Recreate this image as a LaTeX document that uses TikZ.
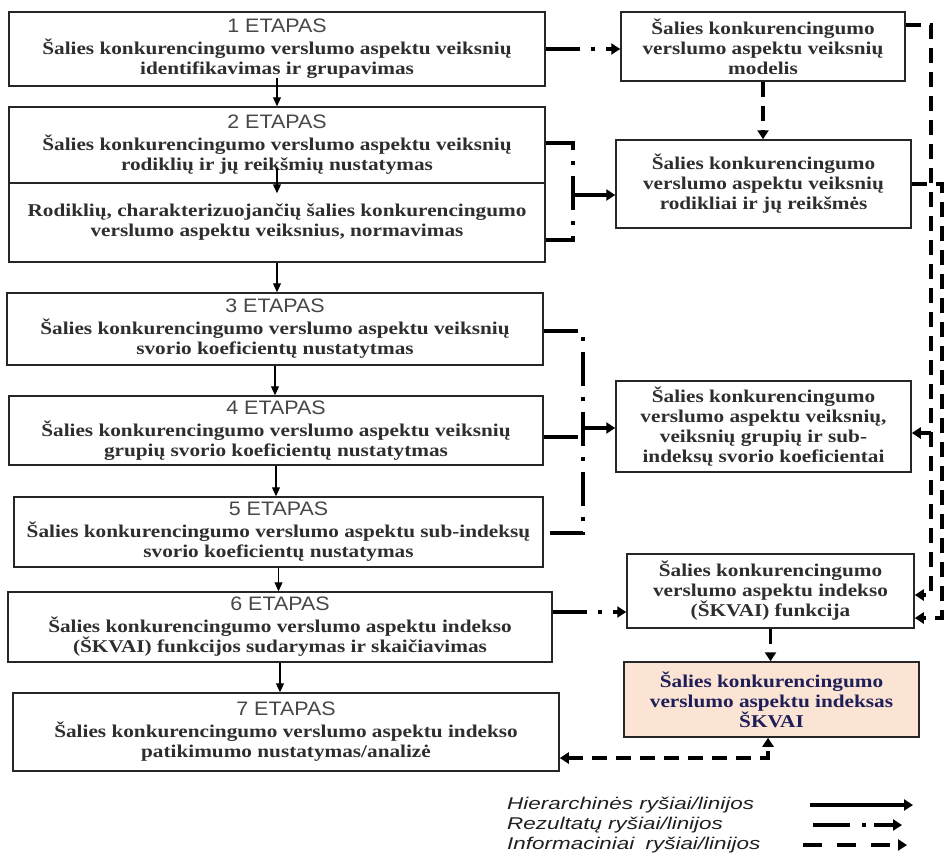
\documentclass[tikz,border=0pt]{standalone}
\usepackage{fontspec}
\setmainfont{Liberation Serif}
\newfontfamily\boxfont{Liberation Serif}[FakeStretch=1.18]
\newfontfamily\titfont{Liberation Sans}[FakeStretch=1.1]
\newfontfamily\legfont{Liberation Sans}[FakeStretch=1.32]
\usetikzlibrary{arrows.meta}
\definecolor{skvaifill}{RGB}{251,228,212}
\definecolor{skvaitxt}{RGB}{30,30,88}
\newcommand{\etap}[1]{{\titfont\mdseries\fontsize{19.5pt}{20pt}\selectfont\color{black!72}#1 ETAPAS}}

\begin{document}
\begin{tikzpicture}[x=1pt, y=-1pt, >={Triangle[length=9pt,width=11pt]},
  etapas/.style={draw=black!85, line width=1.5pt, fill=white, align=center, inner sep=0pt,
    text=black!82, font=\boxfont\bfseries\fontsize{18pt}{20pt}\selectfont},
  hier/.style={line width=1.1pt, -{Triangle[length=9pt,width=8pt]}},
  rezlin/.style={line width=3.5pt, dash pattern=on 34pt off 11pt on 4pt off 11pt},
  inflin/.style={line width=3.5pt, dash pattern=on 15pt off 9pt},
  legtext/.style={anchor=west, inner sep=0pt, text=black!88, font=\legfont\itshape\fontsize{17pt}{20pt}\selectfont}]

  \path[use as bounding box, fill=white] (0,0) rectangle (944,854);

  % Etapai
  \node[etapas, minimum width=536pt, minimum height=74pt] (e1) at (277,49)
    {\etap{1}\\[2pt] Šalies konkurencingumo verslumo aspektu veiksnių\\ identifikavimas ir grupavimas};
  \node[etapas, minimum width=536pt, minimum height=76pt] (e2a) at (277,145)
    {\etap{2}\\[2pt] Šalies konkurencingumo verslumo aspektu veiksnių\\ rodiklių ir jų reikšmių nustatymas};
  \node[etapas, minimum width=536pt, minimum height=79pt] (e2b) at (277,222.5)
    {Rodiklių, charakterizuojančių šalies konkurencingumo\\ verslumo aspektu veiksnius, normavimas};
  \node[etapas, minimum width=536pt, minimum height=72pt] (e3) at (275,329)
    {\etap{3}\\[2pt] Šalies konkurencingumo verslumo aspektu veiksnių\\ svorio koeficientų nustatytmas};
  \node[etapas, minimum width=534pt, minimum height=69pt] (e4) at (276,430.5)
    {\etap{4}\\[2pt] Šalies konkurencingumo verslumo aspektu veiksnių\\ grupių svorio koeficientų nustatytmas};
  \node[etapas, minimum width=529pt, minimum height=70pt] (e5) at (278.5,532)
    {\etap{5}\\[2pt] Šalies konkurencingumo verslumo aspektu sub-indeksų\\ svorio koeficientų nustatymas};
  \node[etapas, minimum width=544pt, minimum height=70pt] (e6) at (280,627)
    {\etap{6}\\[2pt] Šalies konkurencingumo verslumo aspektu indekso\\ (ŠKVAI) funkcijos sudarymas ir skaičiavimas};
  \node[etapas, minimum width=546pt, minimum height=78pt] (e7) at (286,732)
    {\etap{7}\\[2pt] Šalies konkurencingumo verslumo aspektu indekso\\ patikimumo nustatymas/analizė};

  % Rezultatai
  \node[etapas, minimum width=284pt, minimum height=69pt] (modelis) at (763,46.5)
    {Šalies konkurencingumo\\ verslumo aspektu veiksnių\\ modelis};
  \node[etapas, minimum width=295pt, minimum height=88pt] (rodikliai) at (763.5,184)
    {Šalies konkurencingumo\\ verslumo aspektu veiksnių\\ rodikliai ir jų reikšmės};
  \node[etapas, minimum width=295pt, minimum height=91pt] (koef) at (763.5,426.5)
    {Šalies konkurencingumo\\ verslumo aspektu veiksnių,\\ veiksnių grupių ir sub-\\ indeksų svorio koeficientai};
  \node[etapas, minimum width=287pt, minimum height=74pt] (funkcija) at (770.5,591)
    {Šalies konkurencingumo\\ verslumo aspektu indekso\\ (ŠKVAI) funkcija};
  \node[etapas, fill=skvaifill, text=skvaitxt, minimum width=295pt, minimum height=75pt] (indeksas) at (771.5,699.5)
    {Šalies konkurencingumo\\ verslumo aspektu indeksas\\ ŠKVAI};

  % Hierarchinės linijos
  \draw[hier] ([yshift=9pt]e1.south) -- (e1.south |- e2a.north);
  \draw[hier] ([yshift=16pt]e2a.south) -- ([yshift=-11pt]e2b.north);
  \draw[hier] (e2b.south) -- (e2b.south |- e3.north);
  \draw[hier] (e3.south) -- (e3.south |- e4.north);
  \draw[hier] (e4.south) -- (e4.south |- e5.north);
  \draw[hier] (e5.south) -- (e5.south |- e6.north);
  \draw[hier] (e6.south) -- (e6.south |- e7.north);

  % Rezultatų linijos
  \draw[rezlin,->] (e1.east) -- (e1.east -| modelis.west);

  \coordinate (b2t) at (573,143);
  \coordinate (b2b) at (573,240);
  \coordinate (b2m) at (573,195);
  \draw[rezlin] (b2t -| e2a.east) -- (b2t) -- (b2b) -- (b2b -| e2b.east);
  \draw[rezlin,->] (b2m) -- (b2m -| rodikliai.west);

  \coordinate (b3t) at (583,331);
  \coordinate (b3b) at (583,533);
  \coordinate (b4m) at (583,437);
  \coordinate (b4o) at (583,428);
  \draw[rezlin] (b3t -| e3.east) -- (b3t) -- (b3b) -- (b3b -| e5.east);
  \draw[rezlin] (b4m -| e4.east) -- (b4m);
  \draw[rezlin,->] (b4o) -- (b4o -| koef.west);

  \coordinate (b6) at (590,612);
  \draw[rezlin,->] (b6 -| e6.east) -- (b6 -| funkcija.west);

  % Informacinės linijos
  \draw[inflin,->] (modelis.south) -- (modelis.south |- rodikliai.north);

  \coordinate (mt) at (931,25);
  \coordinate (mf) at (931,595);
  \coordinate (mk) at (931,433);
  \draw[inflin,->] (modelis.east |- mt) -- (mt) -- (mf) -- (mf -| funkcija.east);
  \draw[inflin,->] (mk) -- (mk -| koef.east);

  \coordinate (rt) at (942,184);
  \coordinate (rf) at (942,618);
  \draw[inflin,->] (rodikliai.east) -- (rt) -- (rf) -- (rf -| funkcija.east);

  \draw[inflin,->] (funkcija.south) -- (funkcija.south |- indeksas.north);

  \coordinate (ib) at (768,758);
  \draw[inflin,<->] (ib -| e7.east) -- (ib) -- (ib |- indeksas.south);

  % Legenda
  \node[legtext] (lg1) at (507,805) {Hierarchinės ryšiai/linijos};
  \node[legtext] (lg2) at (507,825) {Rezultatų ryšiai/linijos};
  \node[legtext] (lg3) at (507,845) {Informaciniai\hspace{5pt} ryšiai/linijos};
  \coordinate (la) at (810,805);
  \coordinate (lb) at (913,805);
  \coordinate (lc) at (813,825);
  \coordinate (ld) at (902,825);
  \coordinate (le) at (803,845);
  \coordinate (lf) at (907,845);
  \draw[line width=3.5pt,->] (la) -- (lb);
  \draw[line width=3.5pt, dash pattern=on 37pt off 12pt on 4pt off 8pt,->] (lc) -- (ld);
  \draw[line width=3.5pt, dash pattern=on 19pt off 15pt,->] (le) -- (lf);
\end{tikzpicture}
\end{document}
